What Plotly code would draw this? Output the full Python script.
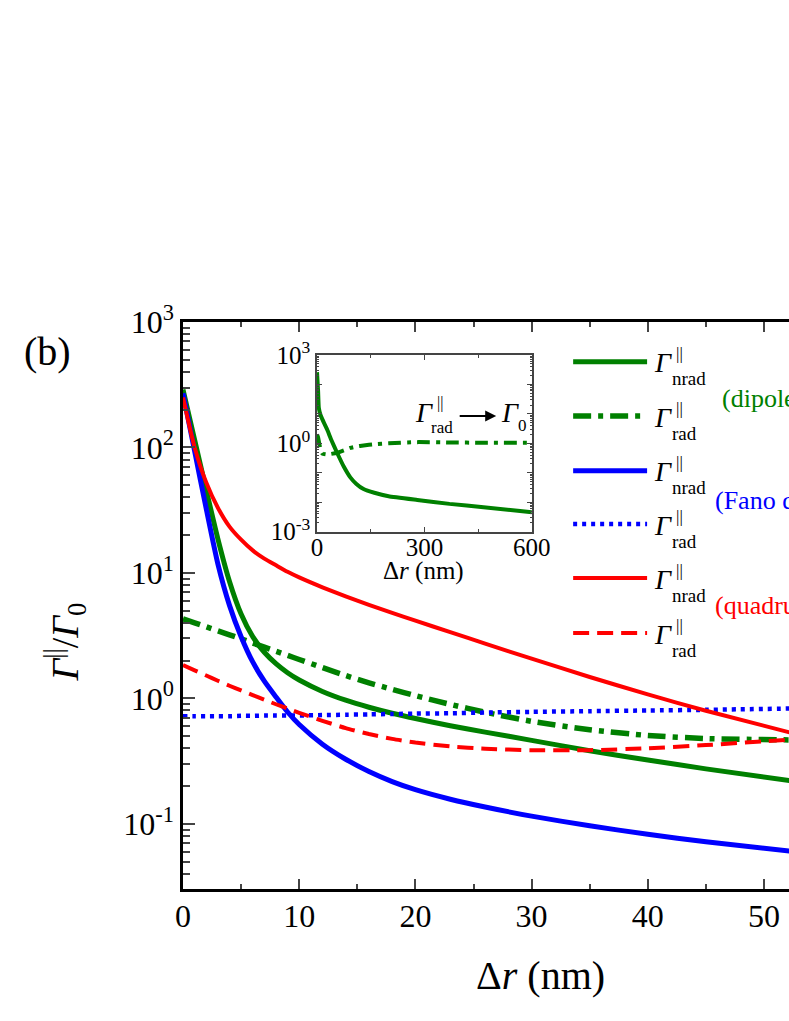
import plotly.graph_objects as go

# main panel: distance (nm) and normalised decay rates
dr = [0, 1, 2, 3, 4, 5, 6, 7, 8, 9, 10, 12, 14, 16, 18, 20, 23, 26, 30, 35, 40, 45, 52.5]
dipole_nrad = [290, 115, 45.9, 18.7, 8.55, 4.70, 3.10, 2.33, 1.89, 1.60, 1.40, 1.135, 0.966, 0.849, 0.76, 0.69, 0.605, 0.538, 0.462, 0.382, 0.322, 0.274, 0.219]
dipole_rad = [4.30, 4.0, 3.72, 3.45, 3.21, 2.98, 2.76, 2.56, 2.37, 2.2, 2.04, 1.76, 1.52, 1.33, 1.18, 1.05, 0.895, 0.774, 0.656, 0.562, 0.506, 0.478, 0.466]
fano_nrad = [270, 93.5, 32.4, 11.8, 5.51, 3.10, 1.95, 1.37, 1.026, 0.778, 0.618, 0.431, 0.327, 0.261, 0.217, 0.187, 0.157, 0.136, 0.115, 0.0963, 0.0824, 0.0718, 0.0602]
fano_rad = [0.72, 0.72, 0.72, 0.72, 0.72, 0.725, 0.725, 0.73, 0.73, 0.73, 0.73, 0.735, 0.74, 0.745, 0.75, 0.755, 0.76, 0.77, 0.78, 0.79, 0.80, 0.81, 0.83]
quad_nrad = [250, 100, 52.5, 33.1, 23.4, 18.4, 15.1, 13.0, 11.5, 10.2, 9.2, 7.67, 6.49, 5.56, 4.8, 4.16, 3.37, 2.73, 2.07, 1.48, 1.074, 0.796, 0.526]
quad_rad = [1.84, 1.67, 1.52, 1.38, 1.26, 1.156, 1.06, 0.975, 0.897, 0.83, 0.767, 0.662, 0.579, 0.519, 0.475, 0.444, 0.414, 0.397, 0.386, 0.386, 0.40, 0.424, 0.47]

# inset: dipole mode out to 600 nm
inset_dr = [0, 3, 5, 10, 15, 28, 40, 56, 75, 93, 110, 130, 160, 200, 280, 370, 465, 600]
inset_nrad = [260, 60, 16, 9, 6.5, 3.0, 1.3, 0.48, 0.16, 0.07, 0.042, 0.028, 0.021, 0.016, 0.012, 0.0088, 0.0068, 0.0046]
inset_rad = [2.0, 1.6, 1.2, 0.6, 0.45, 0.42, 0.44, 0.48, 0.58, 0.7, 0.78, 0.85, 0.93, 1.0, 1.1, 1.07, 1.05, 1.05]

y_tickvals = [0.1, 1, 10, 100, 1000]
y_ticktext = ["10<sup>-1</sup>", "10<sup>0</sup>", "10<sup>1</sup>", "10<sup>2</sup>", "10<sup>3</sup>"]
inset_tickvals = [1e-3, 1e-2, 1e-1, 1, 10, 100, 1000]
inset_ticktext = ["10<sup>-3</sup>", "", "", "10<sup>0</sup>", "", "", "10<sup>3</sup>"]

legend_subs = ["nrad", "rad", "nrad", "rad", "nrad", "rad"]
group_labels = ["(dipole)", "(Fano dip)", "(quadrupole)"]

GREEN, BLUE, RED = "#008000", "#0000ff", "#ff0000"
FONT = "Liberation Serif, Times New Roman, serif"

styles = [
    dict(color=GREEN, width=5, dash="solid"),
    dict(color=GREEN, width=5.5, dash="18px,7px,5px,7px"),
    dict(color=BLUE, width=5, dash="solid"),
    dict(color=BLUE, width=4.5, dash="4px,5px"),
    dict(color=RED, width=4, dash="solid"),
    dict(color=RED, width=4, dash="16px,8px"),
]
series = [dipole_nrad, dipole_rad, fano_nrad, fano_rad, quad_nrad, quad_rad]

# pixel -> paper helpers (plot area 182.6..789 x 322..889)
X0, X1, YB, YT = 182.6, 789.0, 889.0, 322.0
def px(x):
    return (x - X0) / (X1 - X0)
def py(y):
    return (YB - y) / (YB - YT)

def label(text, x, y, size, color="black", xanchor="center", **kw):
    return dict(text=text, x=px(x), y=py(y), xref="paper", yref="paper", showarrow=False,
                xanchor=xanchor, yanchor="middle",
                font=dict(size=size, family=FONT, color=color), **kw)

fig = go.Figure()

for s, st in zip(series, styles):
    fig.add_trace(go.Scatter(x=dr, y=s, mode="lines", showlegend=False,
                             line=dict(color=st["color"], width=st["width"], dash=st["dash"],
                                       shape="spline", smoothing=0.6)))

fig.add_trace(go.Scatter(x=inset_dr, y=inset_nrad, mode="lines", showlegend=False,
                         xaxis="x2", yaxis="y2",
                         line=dict(color=GREEN, width=4, shape="spline", smoothing=0.4)))
fig.add_trace(go.Scatter(x=inset_dr, y=inset_rad, mode="lines", showlegend=False,
                         xaxis="x2", yaxis="y2",
                         line=dict(color=GREEN, width=4, dash="13px,6px,4px,6px", shape="spline", smoothing=0.4)))

shapes = []
annotations = []

# hand drawn legend
leg_y = [361.7, 416.0, 470.7, 524.0, 578.0, 633.0]
for i, (yy, st) in enumerate(zip(leg_y, styles)):
    shapes.append(dict(type="line", xref="paper", yref="paper",
                       x0=px(573), x1=px(647), y0=py(yy), y1=py(yy),
                       line=dict(color=st["color"], width=st["width"], dash=st["dash"])))
    annotations.append(label("<i>Γ</i>", 663, yy + 1, 28))
    annotations.append(label("||", 679, yy - 8, 17))
    annotations.append(label(legend_subs[i], 670, yy + 17, 19, xanchor="left"))

for lab, col, xl, yy in zip(group_labels, [GREEN, BLUE, RED], [720, 713, 713], [398, 500, 605]):
    annotations.append(label(lab, xl, yy, 26, color=col, xanchor="left"))

# inset label Γrad -> Γ0
annotations += [
    label("<i>Γ</i>", 424, 412, 28),
    label("||", 440, 403, 16),
    label("rad", 442, 427, 17),
    dict(text="", x=px(496), y=py(416), xref="paper", yref="paper", showarrow=True,
         ax=-38, ay=0, arrowhead=2, arrowsize=1.1, arrowwidth=2, arrowcolor="black"),
    label("<i>Γ</i>", 510, 412, 28),
    label("0", 522, 425, 17),
    label("Δ<i>r</i> (nm)", 423, 571, 25),
]

# axis titles and panel label
annotations += [
    label("Δ<i>r</i> (nm)", 540, 975, 40),
    label("<i>Γ</i><sup>||</sup>/<i>Γ</i><sub>0</sub>", 65, 642, 38, textangle=-90),
    label("(b)", 47, 351, 40),
]

fig.update_layout(
    width=789, height=1021,
    margin=dict(l=183, r=0, t=322, b=132, autoexpand=False),
    paper_bgcolor="white", plot_bgcolor="white",
    font=dict(family=FONT, color="black"),
    shapes=shapes, annotations=annotations,
    xaxis=dict(range=[0, 52.15], tick0=0, dtick=10, ticks="inside", ticklen=10, tickwidth=2,
               minor=dict(dtick=5, ticks="inside", ticklen=5, tickwidth=2, showgrid=False),
               showline=True, linewidth=2.5, linecolor="black", mirror="ticks",
               showgrid=False, zeroline=False, tickfont=dict(size=32, family=FONT),
               ticklabelstandoff=-3),
    yaxis=dict(type="log", range=[-1.52, 3], tickmode="array", tickvals=y_tickvals, ticktext=y_ticktext,
               ticks="inside", ticklen=12, tickwidth=2,
               minor=dict(dtick="D1", ticks="inside", ticklen=7, tickwidth=2, showgrid=False),
               showline=True, linewidth=2.5, linecolor="black", mirror=False,
               showgrid=False, zeroline=False, tickfont=dict(size=32, family=FONT)),
    xaxis2=dict(domain=[px(316.7), px(531.7)], anchor="y2", range=[0, 600], tick0=0, dtick=300,
                ticks="inside", ticklen=5, tickwidth=1, tickcolor="#444",
                minor=dict(dtick=150, ticks="inside", ticklen=3, tickwidth=1, tickcolor="#444", showgrid=False),
                showline=True, linewidth=1.5, linecolor="#444", mirror="ticks",
                showgrid=False, zeroline=False, tickfont=dict(size=25, family=FONT),
                ticklabelstandoff=-7),
    yaxis2=dict(domain=[py(531.7), py(355)], anchor="x2", type="log", range=[-3, 3],
                tickmode="array", tickvals=inset_tickvals, ticktext=inset_ticktext,
                ticks="inside", ticklen=5, tickwidth=1, tickcolor="#444",
                minor=dict(dtick="D1", ticks="inside", ticklen=2, tickwidth=1, tickcolor="#444", showgrid=False),
                showline=True, linewidth=1.5, linecolor="#444", mirror="ticks",
                showgrid=False, zeroline=False, tickfont=dict(size=25, family=FONT)),
)

fig.write_html("out.html", config={"displayModeBar": False},
               post_script="document.body.style.margin='0px';")
